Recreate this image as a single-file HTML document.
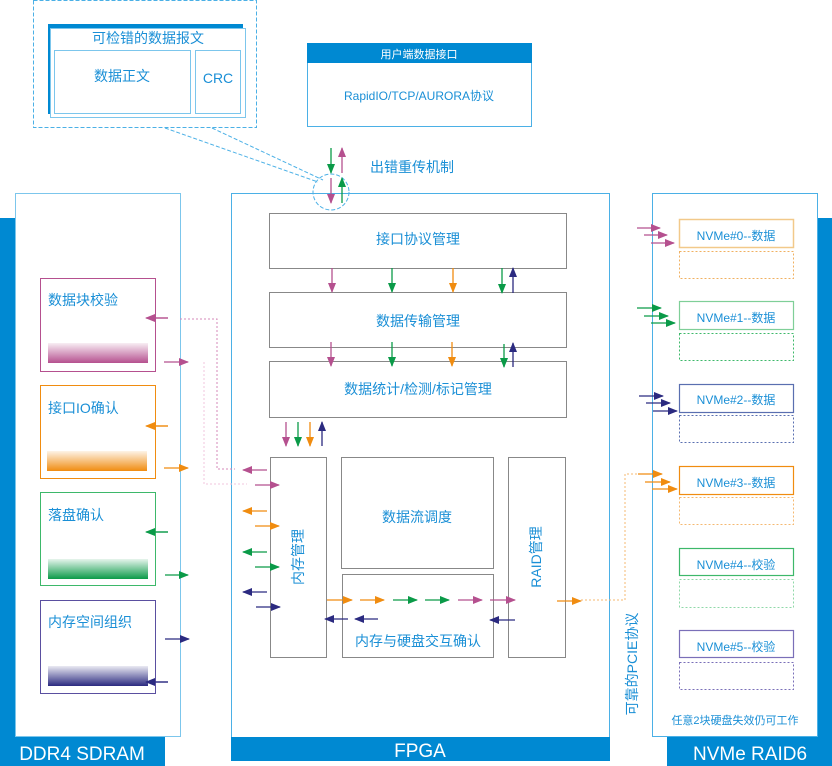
<!DOCTYPE html>
<html><head><meta charset="utf-8"><style>
html,body{margin:0;padding:0;background:#fff}
svg{display:block}
text{font-family:"Liberation Sans","Noto Sans CJK SC",sans-serif;fill:#1a8fd6}
</style></head><body>
<svg width="832" height="766" viewBox="0 0 832 766" xmlns="http://www.w3.org/2000/svg">
<defs>
<marker id="mM" markerWidth="10" markerHeight="8" refX="9" refY="4" orient="auto" markerUnits="userSpaceOnUse"><path d="M0,0 L10,4 L0,8 z" fill="#b5508f"/></marker>
<marker id="mG" markerWidth="10" markerHeight="8" refX="9" refY="4" orient="auto" markerUnits="userSpaceOnUse"><path d="M0,0 L10,4 L0,8 z" fill="#0a9a48"/></marker>
<marker id="mO" markerWidth="10" markerHeight="8" refX="9" refY="4" orient="auto" markerUnits="userSpaceOnUse"><path d="M0,0 L10,4 L0,8 z" fill="#f08c10"/></marker>
<marker id="mN" markerWidth="10" markerHeight="8" refX="9" refY="4" orient="auto" markerUnits="userSpaceOnUse"><path d="M0,0 L10,4 L0,8 z" fill="#2b2a80"/></marker>
<linearGradient id="gM" x1="0" y1="0" x2="0" y2="1"><stop offset="0" stop-color="#b5508f" stop-opacity="0.1"/><stop offset="1" stop-color="#b5508f"/></linearGradient>
<linearGradient id="gO" x1="0" y1="0" x2="0" y2="1"><stop offset="0" stop-color="#f08c10" stop-opacity="0.1"/><stop offset="1" stop-color="#f08c10"/></linearGradient>
<linearGradient id="gG" x1="0" y1="0" x2="0" y2="1"><stop offset="0" stop-color="#0a9a48" stop-opacity="0.1"/><stop offset="1" stop-color="#0a9a48"/></linearGradient>
<linearGradient id="gN" x1="0" y1="0" x2="0" y2="1"><stop offset="0" stop-color="#2b2a80" stop-opacity="0.1"/><stop offset="1" stop-color="#2b2a80"/></linearGradient>
</defs>

<!-- DDR4 panel -->
<rect x="0" y="218" width="165" height="548" fill="#0089d2"/>
<rect x="15.5" y="193.5" width="165" height="543" fill="#fff" stroke="#7cc6ec"/>
<text x="82" y="760" font-size="19" text-anchor="middle" fill="#fff" style="fill:#fff">DDR4 SDRAM</text>

<!-- FPGA panel -->
<rect x="231.5" y="193.5" width="378" height="544" fill="#fff" stroke="#4bb0e6"/>
<rect x="231" y="737" width="379" height="24" fill="#0089d2"/>
<text x="420" y="757" font-size="19" text-anchor="middle" style="fill:#fff">FPGA</text>

<!-- NVMe panel -->
<rect x="667" y="218" width="165" height="548" fill="#0089d2"/>
<rect x="652.5" y="193.5" width="165" height="543" fill="#fff" stroke="#4bb0e6"/>
<text x="750" y="760" font-size="19" text-anchor="middle" style="fill:#fff">NVMe RAID6</text>

<!-- top dashed group -->
<rect x="33.5" y="0.5" width="223" height="127" fill="none" stroke="#4bb0e6" stroke-dasharray="4,2"/>
<rect x="48" y="24" width="195" height="90" fill="#0089d2"/>
<rect x="50.5" y="28.5" width="195" height="89" fill="#fff" stroke="#7cc6ec"/>
<text x="148" y="43" font-size="14" text-anchor="middle">可检错的数据报文</text>
<rect x="54.5" y="50.5" width="136" height="63" fill="none" stroke="#7cc6ec"/>
<text x="122" y="81" font-size="14" text-anchor="middle">数据正文</text>
<rect x="195.5" y="50.5" width="45" height="63" fill="none" stroke="#7cc6ec"/>
<text x="218" y="83" font-size="14" text-anchor="middle">CRC</text>
<path d="M165,128 L318,182 M212,128 L323,180" stroke="#4bb0e6" stroke-dasharray="4,2" fill="none"/>
<circle cx="331" cy="192" r="18" fill="none" stroke="#4bb0e6" stroke-dasharray="4,2"/>

<!-- user interface -->
<rect x="307.5" y="43.5" width="224" height="83" fill="#fff" stroke="#4bb0e6"/>
<rect x="307" y="43" width="225" height="20" fill="#0089d2"/>
<text x="419" y="58" font-size="11" text-anchor="middle" style="fill:#fff">用户端数据接口</text>
<text x="419" y="100" font-size="12" text-anchor="middle">RapidIO/TCP/AURORA协议</text>

<!-- retransmission arrows -->
<g stroke-width="1.3" fill="none">
<line x1="331" y1="148" x2="331" y2="173" stroke="#0a9a48" marker-end="url(#mG)"/>
<line x1="342" y1="173" x2="342" y2="148" stroke="#b5508f" marker-end="url(#mM)"/>
<line x1="331" y1="178" x2="331" y2="203" stroke="#b5508f" marker-end="url(#mM)"/>
<line x1="342" y1="203" x2="342" y2="178" stroke="#0a9a48" marker-end="url(#mG)"/>
</g>
<text x="370" y="172" font-size="14">出错重传机制</text>

<!-- FPGA inner boxes -->
<g fill="#fff" stroke="#888">
<rect x="269.5" y="213.5" width="297" height="55"/>
<rect x="269.5" y="292.5" width="297" height="55"/>
<rect x="269.5" y="361.5" width="297" height="56"/>
<rect x="270.5" y="457.5" width="56" height="200"/>
<rect x="341.5" y="457.5" width="152" height="111"/>
<rect x="342.5" y="574.5" width="151" height="83"/>
<rect x="508.5" y="457.5" width="57" height="200"/>
</g>
<text x="418" y="244" font-size="14" text-anchor="middle">接口协议管理</text>
<text x="418" y="326" font-size="14" text-anchor="middle">数据传输管理</text>
<text x="418" y="394" font-size="14" text-anchor="middle">数据统计/检测/标记管理</text>
<text x="417" y="522" font-size="14" text-anchor="middle">数据流调度</text>
<text x="418" y="646" font-size="14" text-anchor="middle">内存与硬盘交互确认</text>
<text transform="translate(303,557) rotate(-90)" font-size="14" text-anchor="middle" x="0" y="0">内存管理</text>
<text transform="translate(541,557) rotate(-90)" font-size="14" text-anchor="middle" x="0" y="0">RAID管理</text>

<!-- vertical arrows inside FPGA -->
<g stroke-width="1.3" fill="none">
<line x1="332" y1="268" x2="332" y2="292" stroke="#b5508f" marker-end="url(#mM)"/>
<line x1="392" y1="268" x2="392" y2="292" stroke="#0a9a48" marker-end="url(#mG)"/>
<line x1="453" y1="268" x2="453" y2="292" stroke="#f08c10" marker-end="url(#mO)"/>
<line x1="502" y1="268" x2="502" y2="293" stroke="#0a9a48" marker-end="url(#mG)"/>
<line x1="513" y1="293" x2="513" y2="268" stroke="#2b2a80" marker-end="url(#mN)"/>
<line x1="331" y1="342" x2="331" y2="366" stroke="#b5508f" marker-end="url(#mM)"/>
<line x1="392" y1="342" x2="392" y2="366" stroke="#0a9a48" marker-end="url(#mG)"/>
<line x1="452" y1="342" x2="452" y2="366" stroke="#f08c10" marker-end="url(#mO)"/>
<line x1="504" y1="344" x2="504" y2="367" stroke="#0a9a48" marker-end="url(#mG)"/>
<line x1="513" y1="367" x2="513" y2="343" stroke="#2b2a80" marker-end="url(#mN)"/>
<line x1="286" y1="422" x2="286" y2="446" stroke="#b5508f" marker-end="url(#mM)"/>
<line x1="298" y1="422" x2="298" y2="446" stroke="#0a9a48" marker-end="url(#mG)"/>
<line x1="310" y1="422" x2="310" y2="446" stroke="#f08c10" marker-end="url(#mO)"/>
<line x1="322" y1="446" x2="322" y2="422" stroke="#2b2a80" marker-end="url(#mN)"/>

<!-- left of 内存管理 -->
<line x1="267" y1="470" x2="243" y2="470" stroke="#b5508f" marker-end="url(#mM)"/>
<line x1="255" y1="485" x2="279" y2="485" stroke="#b5508f" marker-end="url(#mM)"/>
<line x1="267" y1="511" x2="243" y2="511" stroke="#f08c10" marker-end="url(#mO)"/>
<line x1="255" y1="526" x2="279" y2="526" stroke="#f08c10" marker-end="url(#mO)"/>
<line x1="267" y1="552" x2="243" y2="552" stroke="#0a9a48" marker-end="url(#mG)"/>
<line x1="255" y1="567" x2="279" y2="567" stroke="#0a9a48" marker-end="url(#mG)"/>
<line x1="267" y1="592" x2="243" y2="592" stroke="#2b2a80" marker-end="url(#mN)"/>
<line x1="256" y1="607" x2="280" y2="607" stroke="#2b2a80" marker-end="url(#mN)"/>

<!-- bottom row -->
<line x1="327" y1="600" x2="352" y2="600" stroke="#f08c10" marker-end="url(#mO)"/>
<line x1="360" y1="600" x2="384" y2="600" stroke="#f08c10" marker-end="url(#mO)"/>
<line x1="393" y1="600" x2="417" y2="600" stroke="#0a9a48" marker-end="url(#mG)"/>
<line x1="425" y1="600" x2="449" y2="600" stroke="#0a9a48" marker-end="url(#mG)"/>
<line x1="458" y1="600" x2="482" y2="600" stroke="#b5508f" marker-end="url(#mM)"/>
<line x1="490" y1="600" x2="515" y2="600" stroke="#b5508f" marker-end="url(#mM)"/>
<line x1="348" y1="619" x2="325" y2="619" stroke="#2b2a80" marker-end="url(#mN)"/>
<line x1="378" y1="619" x2="355" y2="619" stroke="#2b2a80" marker-end="url(#mN)"/>
<line x1="515" y1="620" x2="490" y2="620" stroke="#2b2a80" marker-end="url(#mN)"/>
<line x1="557" y1="601" x2="581" y2="601" stroke="#f08c10" marker-end="url(#mO)"/>

<!-- DDR4 arrows -->
<line x1="168" y1="318" x2="144" y2="318" stroke="#b5508f" marker-end="url(#mM)"/>
<line x1="164" y1="362" x2="188" y2="362" stroke="#b5508f" marker-end="url(#mM)"/>
<line x1="168" y1="426" x2="144" y2="426" stroke="#f08c10" marker-end="url(#mO)"/>
<line x1="164" y1="468" x2="188" y2="468" stroke="#f08c10" marker-end="url(#mO)"/>
<line x1="168" y1="532" x2="144" y2="532" stroke="#0a9a48" marker-end="url(#mG)"/>
<line x1="165" y1="575" x2="188" y2="575" stroke="#0a9a48" marker-end="url(#mG)"/>
<line x1="165" y1="639" x2="189" y2="639" stroke="#2b2a80" marker-end="url(#mN)"/>
<line x1="168" y1="682" x2="144" y2="682" stroke="#2b2a80" marker-end="url(#mN)"/>

<!-- NVMe arrows -->
<line x1="637" y1="228" x2="660" y2="228" stroke="#b5508f" marker-end="url(#mM)"/>
<line x1="644" y1="235" x2="667" y2="235" stroke="#b5508f" marker-end="url(#mM)"/>
<line x1="651" y1="243" x2="674" y2="243" stroke="#b5508f" marker-end="url(#mM)"/>
<line x1="637" y1="308" x2="661" y2="308" stroke="#0a9a48" marker-end="url(#mG)"/>
<line x1="644" y1="316" x2="668" y2="316" stroke="#0a9a48" marker-end="url(#mG)"/>
<line x1="651" y1="323" x2="675" y2="323" stroke="#0a9a48" marker-end="url(#mG)"/>
<line x1="639" y1="396" x2="663" y2="396" stroke="#2b2a80" marker-end="url(#mN)"/>
<line x1="646" y1="403" x2="670" y2="403" stroke="#2b2a80" marker-end="url(#mN)"/>
<line x1="653" y1="411" x2="677" y2="411" stroke="#2b2a80" marker-end="url(#mN)"/>
<line x1="638" y1="474" x2="662" y2="474" stroke="#f08c10" marker-end="url(#mO)"/>
<line x1="645" y1="482" x2="670" y2="482" stroke="#f08c10" marker-end="url(#mO)"/>
<line x1="652" y1="489" x2="677" y2="489" stroke="#f08c10" marker-end="url(#mO)"/>
</g>

<!-- dotted connectors -->
<g fill="none" stroke-width="1" stroke-dasharray="2,2">
<path d="M180,319 L217,319 L217,469 L235,469" stroke="#d48ab8"/>
<path d="M204,362 L204,484 L247,484" stroke="#f0c6dd"/>
<path d="M581,600 L625,600 L625,474 L638,474" stroke="#f5b870"/>
</g>

<!-- DDR4 boxes -->
<rect x="40.5" y="278.5" width="115" height="93" fill="#fff" stroke="#b5508f"/>
<rect x="48" y="343" width="100" height="20" fill="url(#gM)"/>
<text x="48" y="305" font-size="14">数据块校验</text>
<rect x="40.5" y="385.5" width="115" height="93" fill="#fff" stroke="#f08c10"/>
<rect x="47" y="451" width="100" height="20" fill="url(#gO)"/>
<text x="48" y="413" font-size="14">接口IO确认</text>
<rect x="40.5" y="492.5" width="115" height="93" fill="#fff" stroke="#3db86a"/>
<rect x="48" y="559" width="100" height="20" fill="url(#gG)"/>
<text x="48" y="520" font-size="14">落盘确认</text>
<rect x="40.5" y="600.5" width="115" height="93" fill="#fff" stroke="#5a4fa0"/>
<rect x="48" y="666" width="100" height="20" fill="url(#gN)"/>
<text x="48" y="627" font-size="14">内存空间组织</text>
<line x1="168" y1="682" x2="146" y2="682" stroke="#2b2a80" stroke-width="1.3" marker-end="url(#mN)"/>
<line x1="168" y1="318" x2="146" y2="318" stroke="#b5508f" stroke-width="1.3" marker-end="url(#mM)"/>
<line x1="168" y1="426" x2="146" y2="426" stroke="#f08c10" stroke-width="1.3" marker-end="url(#mO)"/>
<line x1="168" y1="532" x2="146" y2="532" stroke="#0a9a48" stroke-width="1.3" marker-end="url(#mG)"/>

<!-- NVMe boxes -->
<g fill="#fff">
<rect x="679.5" y="219.5" width="114" height="28" stroke="#f2c98a" stroke-width="1.5"/>
<rect x="679.5" y="251.5" width="114" height="27" stroke="#f0b060" stroke-dasharray="2,2"/>
<rect x="679.5" y="301.5" width="114" height="28" stroke="#7fcf98" stroke-width="1.2"/>
<rect x="679.5" y="333.5" width="114" height="27" stroke="#3db86a" stroke-dasharray="2,2"/>
<rect x="679.5" y="384.5" width="114" height="28" stroke="#5a6fb0" stroke-width="1.2"/>
<rect x="679.5" y="415.5" width="114" height="27" stroke="#5a6fb0" stroke-dasharray="2,2"/>
<rect x="679.5" y="466.5" width="114" height="28" stroke="#f08c10" stroke-width="1.2"/>
<rect x="679.5" y="497.5" width="114" height="27" stroke="#f5b870" stroke-dasharray="2,2"/>
<rect x="679.5" y="548.5" width="114" height="27" stroke="#3db86a" stroke-width="1.2"/>
<rect x="679.5" y="579.5" width="114" height="28" stroke="#8fd8a8" stroke-dasharray="2,2"/>
<rect x="679.5" y="630.5" width="114" height="27" stroke="#7a6fb8" stroke-width="1.2"/>
<rect x="679.5" y="662.5" width="114" height="27" stroke="#7a6fb8" stroke-dasharray="2,2"/>
</g>
<g font-size="12" text-anchor="middle">
<text x="736" y="240">NVMe#0--数据</text>
<text x="736" y="322">NVMe#1--数据</text>
<text x="736" y="404">NVMe#2--数据</text>
<text x="736" y="487">NVMe#3--数据</text>
<text x="736" y="569">NVMe#4--校验</text>
<text x="736" y="651">NVMe#5--校验</text>
</g>
<text x="735" y="724" font-size="11" text-anchor="middle">任意2块硬盘失效仍可工作</text>
<text transform="translate(637,664) rotate(-90)" font-size="14" text-anchor="middle">可靠的PCIE协议</text>
</svg>
</body></html>
